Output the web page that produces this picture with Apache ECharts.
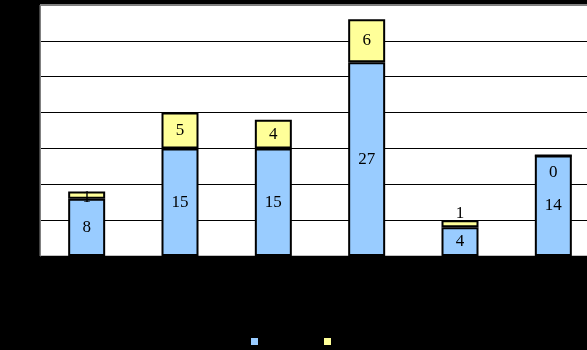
<!DOCTYPE html>
<html><head><meta charset="utf-8">
<script src="https://cdn.jsdelivr.net/npm/echarts@6/dist/echarts.min.js"></script>
<style>html,body{margin:0;padding:0;background:#000;}#c{width:587px;height:350px;}</style>
</head><body><div id="c"></div>
<script>
var categories = ['1', '2', '3', '4', '5', '6'];
var seriesNames = ['A', 'B'];
var lowerValues = [8, 15, 15, 27, 4, 14];
var upperValues = [1, 5, 4, 6, 1, 0];
var yTicks = [0, 5, 10, 15, 20, 25, 30, 35];

// label offsets (style, not data)
var upperLabelOffsets = [[0, 2], [0, 0], [0, 0], [0, 0], [0, -10], [0, 17]];

var chart = echarts.init(document.getElementById('c'));
var labelFont = { fontFamily: 'Liberation Serif', fontSize: 17, color: '#000' };
chart.setOption({
  backgroundColor: '#000',
  animation: false,
  grid: { left: 40, top: 5, width: 560, bottom: 94, show: true, backgroundColor: '#fff', borderColor: '#808080', borderWidth: 1, outerBoundsMode: 'none', containLabel: false },
  legend: {
    top: 331, left: 244, itemWidth: 9, itemHeight: 9, itemGap: 62,
    icon: 'rect', formatter: function () { return ''; },
    data: seriesNames
  },
  xAxis: { type: 'category', data: categories, axisLine: { show: false }, axisTick: { show: false }, axisLabel: { show: false } },
  yAxis: {
    type: 'value', min: yTicks[0], max: yTicks[yTicks.length - 1], interval: 5,
    axisLabel: { show: false }, axisLine: { show: true, lineStyle: { color: '#808080' } },
    splitLine: { lineStyle: { color: '#000', width: 1 } }
  },
  graphic: [{ type: 'rect', shape: { x: 40, y: 4, width: 547, height: 2 }, style: { fill: '#808080' }, z: 10 }],
  series: [
    {
      name: seriesNames[0], type: 'bar', stack: 's', barWidth: 37,
      itemStyle: { color: '#99CCFF', borderColor: '#000', borderWidth: 2 },
      label: Object.assign({ show: true, position: 'inside' }, labelFont),
      data: lowerValues
    },
    {
      name: seriesNames[1], type: 'bar', stack: 's', barWidth: 37,
      itemStyle: { color: '#FFFF99', borderColor: '#000', borderWidth: 2 },
      label: Object.assign({ show: true, position: 'inside' }, labelFont),
      data: upperValues.map(function (v, i) {
        return { value: v, label: { offset: upperLabelOffsets[i] } };
      })
    }
  ]
});
</script></body></html>
